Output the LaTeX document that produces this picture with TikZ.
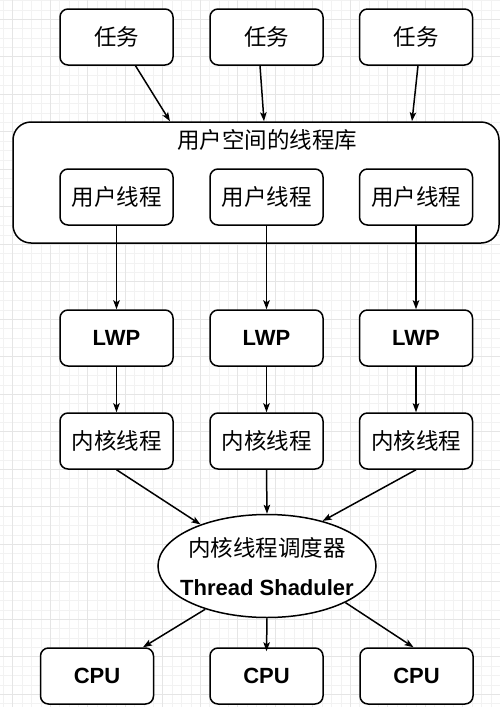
\documentclass[tikz,border=0pt]{standalone}
\usepackage{fontspec}
\setmainfont{Liberation Sans}
\newfontfamily\cjk{Noto Sans CJK SC}
\usetikzlibrary{shapes.geometric, arrows.meta}

\begin{document}
\begin{tikzpicture}[x=1pt, y=-1pt,
	box/.style = {draw, line width=1.5pt, rounded corners=8pt, fill=white,
		minimum width=113pt, minimum height=56pt, inner sep=0pt},
	zh/.style = {font=\cjk\fontsize{22.5}{24}\selectfont},
	en/.style = {font=\fontsize{22}{24}\selectfont\bfseries},
	arr/.style = {line width=1.5pt, -{Stealth[length=9pt, width=6.5pt, inset=2pt]}}]
\useasboundingbox (0,0) rectangle (500,707);

% grid
\foreach \gx in {3.325, 12.7, ..., 500} {
	\draw[black!5, line width=0.5pt] (\gx,0)--(\gx,707);
}
\foreach \gy in {0.45, 9.825, ..., 707} {
	\draw[black!5, line width=0.5pt] (0,\gy)--(500,\gy);
}
\foreach \gx in {12.7, 50.2, ..., 500} {
	\draw[black!10, line width=0.6pt] (\gx,0)--(\gx,707);
}
\foreach \gy in {19.2, 56.7, ..., 707} {
	\draw[black!10, line width=0.6pt] (0,\gy)--(500,\gy);
}

% tasks
\node[box, zh] (task1) at (116.5,37) {任务};
\node[box, zh] (task2) at (266.5,37) {任务};
\node[box, zh] (task3) at (416,37) {任务};

% user space library
\node[draw, line width=1.5pt, rounded corners=18pt, fill=white,
	minimum width=486pt, minimum height=121pt] (lib) at (256,182.5) {};
\node[zh] (libtitle) at (267,140) {用户空间的线程库};
\node[box, zh] (user1) at (116.5,197) {用户线程};
\node[box, zh] (user2) at (266.5,197) {用户线程};
\node[box, zh] (user3) at (416,197) {用户线程};

% LWP and kernel threads
\node[box, en] (lwp1) at (116.5,338) {LWP};
\node[box, en] (lwp2) at (266.5,338) {LWP};
\node[box, en] (lwp3) at (416,338) {LWP};
\node[box, zh] (kern1) at (116.5,441) {内核线程};
\node[box, zh] (kern2) at (266.5,441) {内核线程};
\node[box, zh] (kern3) at (416,441) {内核线程};

% scheduler
\node[ellipse, draw, line width=1.5pt, fill=white,
	minimum width=218pt, minimum height=103pt, inner sep=0pt] (sched) at (267,566) {};
\node[zh] (schedzh) at (267,548) {内核线程调度器};
\node[en] (scheden) at (267,588) {Thread Shaduler};

% cpus
\node[box, en] (cpu1) at (97,676) {CPU};
\node[box, en] (cpu2) at (266.5,676) {CPU};
\node[box, en] (cpu3) at (416.5,676) {CPU};

% arrows
\draw[arr] ([xshift=19pt]task1.south) -- ([xshift=-86pt]lib.north);
\draw[arr] ([xshift=-6.5pt]task2.south) -- ([xshift=8pt]lib.north);
\draw[arr] ([xshift=2pt]task3.south) -- ([xshift=156pt]lib.north);

\foreach \i in {1,2,3} {
	\draw[arr] (user\i) -- (lwp\i);
	\draw[arr] (lwp\i) -- (kern\i);
}

\draw[arr] (kern1.south) -- (sched.148);
\draw[arr] (kern2.south) -- (sched.north);
\draw[arr] (kern3.south) -- (sched.39);

\draw[arr] (sched.215) -- ([xshift=46pt]cpu1.north);
\draw[arr] (sched.south) -- ([yshift=-4pt]cpu2.north);
\draw[arr] (sched.335) -- ([xshift=-3pt]cpu3.north);
\end{tikzpicture}
\end{document}
